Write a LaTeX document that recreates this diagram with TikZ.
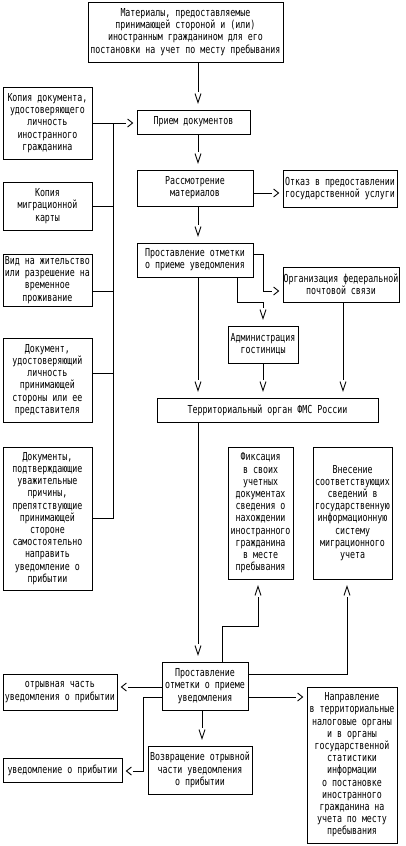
\documentclass[tikz,border=0pt]{standalone}
\usepackage{fontspec}
\usetikzlibrary{arrows.meta,calc}
\newfontfamily\mono[FakeStretch=0.755]{DejaVu Sans Mono}
\newdimen\vgapdim
\pgfdeclarearrow{
  name = Vg,
  parameters = {\the\pgfarrowlength,\the\pgfarrowwidth},
  setup code = {
    \vgapdim=\pgfarrowlength
    \advance\vgapdim by 2pt
    \pgfarrowssettipend{0pt}
    \pgfarrowssetbackend{-\pgfarrowlength}
    \pgfarrowssetlineend{-\vgapdim}
    \pgfarrowssavethe\pgfarrowlength
    \pgfarrowssavethe\pgfarrowwidth
  },
  drawing code = {
    \pgfpathmoveto{\pgfqpoint{-\pgfarrowlength}{.5\pgfarrowwidth}}
    \pgfpathlineto{\pgfpointorigin}
    \pgfpathlineto{\pgfqpoint{-\pgfarrowlength}{-.5\pgfarrowwidth}}
    \pgfusepathqstroke
  },
  defaults = {length=8pt, width=6pt}
}
\tikzset{
  box/.style={draw, line width=0.9pt, inner sep=0pt, align=center,
    font={\mono\fontsize{11}{12.2}\selectfont}},
  conn/.style={line width=0.9pt},
  vd/.style={conn, -{Vg[length=9pt,width=6pt]}, shorten >=7pt},
  hd/.style={conn, -{Vg[length=5pt,width=8pt]}, shorten >=4pt},
}
\begin{document}
\begin{tikzpicture}[x=1pt,y=-1pt]
\useasboundingbox (0,0) rectangle (405,846);
% boxes
\node[box, minimum width=195pt, minimum height=60pt] (top) at (185.5,32)
  {Материалы, предоставляемые\\ принимающей стороной и (или)\\ иностранным гражданином для его\\ постановки на учет по месту пребывания};
\node[box, minimum width=113pt, minimum height=24pt] (priem) at (193.5,122) {Прием документов};
\node[box, minimum width=89pt, minimum height=72pt] (kop1) at (47.5,123)
  {Копия документа,\\ удостоверяющего\\ личность\\ иностранного\\ гражданина};
\node[box, minimum width=116pt, minimum height=36pt] (rassm) at (195,188) {Рассмотрение\\ материалов};
\node[box, minimum width=114pt, minimum height=37pt] (otkaz) at (340,188.5)
  {Отказ в предоставлении\\ государственной услуги};
\node[box, minimum width=89pt, minimum height=48pt] (kop2) at (47.5,206) {Копия\\ миграционной\\ карты};
\node[box, minimum width=116pt, minimum height=34pt] (prost1) at (195,260)
  {Проставление отметки\\ о приеме уведомления};
\node[box, minimum width=89pt, minimum height=52pt] (vid) at (47.5,280)
  {Вид на жительство\\ или разрешение на\\ временное\\ проживание};
\node[box, minimum width=116pt, minimum height=35pt] (org) at (341,284.5)
  {Организация федеральной\\ почтовой связи};
\node[box, minimum width=70pt, minimum height=37pt] (admin) at (263,344.5) {Администрация\\ гостиницы};
\node[box, minimum width=89pt, minimum height=84pt] (dok) at (47.5,380)
  {Документ,\\ удостоверяющий\\ личность\\ принимающей\\ стороны или ее\\ представителя};
\node[box, minimum width=221pt, minimum height=24pt] (terr) at (267.5,410) {Территориальный орган ФМС России};
\node[box, minimum width=89pt, minimum height=143pt] (doks) at (47.5,518.5)
  {Документы,\\ подтверждающие\\ уважительные\\ причины,\\ препятствующие\\ принимающей\\ стороне\\ самостоятельно\\ направить\\ уведомление о\\ прибытии};
\node[box, minimum width=65pt, minimum height=132pt] (fiks) at (260.5,513)
  {Фиксация\\ в своих\\ учетных\\ документах\\ сведения о\\ нахождении\\ иностранного\\ гражданина\\ в месте\\ пребывания};
\node[box, minimum width=79pt, minimum height=132pt] (vnes) at (352.5,513)
  {Внесение\\ соответствующих\\ сведений в\\ государственную\\ информационную\\ систему\\ миграционного\\ учета};
\node[box, minimum width=86pt, minimum height=48pt] (prost2) at (205,686)
  {Проставление\\ отметки о приеме\\ уведомления};
\node[box, minimum width=114pt, minimum height=36pt] (otryv) at (60,692)
  {отрывная часть\\ уведомления о прибытии};
\node[box, minimum width=119pt, minimum height=24pt] (uved) at (62.5,770) {уведомление о прибытии};
\node[box, minimum width=104pt, minimum height=48pt] (vozvr) at (200,770)
  {Возвращение отрывной\\ части уведомления\\ о прибытии};
\node[box, minimum width=90pt, minimum height=156pt] (napr) at (352,765)
  {Направление\\ в территориальные\\ налоговые органы\\ и в органы\\ государственной\\ статистики\\ информации\\ о постановке\\ иностранного\\ гражданина на\\ учета по месту\\ пребывания};
% routing coordinates
\coordinate (X113) at (113,0);
\coordinate (X143) at (143,0);
\coordinate (X198) at (198,0);
\coordinate (X202) at (202,0);
\coordinate (X222) at (222,0);
\coordinate (X237) at (237,0);
\coordinate (X258) at (258,0);
\coordinate (X263) at (263,0);
\coordinate (X343) at (343,0);
\coordinate (X347) at (347,0);
\coordinate (Y193) at (0,193);
\coordinate (Y254) at (0,254);
\coordinate (Y291) at (0,291);
\coordinate (Y302) at (0,302);
\coordinate (Y373) at (0,373);
\coordinate (Y626) at (0,626);
\coordinate (Y674) at (0,674);
\coordinate (Y687) at (0,687);
\coordinate (Y697) at (0,697);
\coordinate (Y771) at (0,771);
% connectors
\draw[vd] (top.south -| X198) -- (priem.north -| X198);
\draw[hd] (kop1.east) -- (priem.west |- kop1.east);
\draw[conn] (doks.east) -| (kop1.east -| X113);
\draw[conn] (kop2.east) -- (kop2.east -| X113);
\draw[conn] (vid.east |- Y291) -- (Y291 -| X113);
\draw[conn] (dok.east |- Y373) -- (Y373 -| X113);
\draw[vd] (priem.south -| X198) -- (rassm.north -| X198);
\draw[hd] (rassm.east |- Y193) -- (otkaz.west |- Y193);
\draw[vd] (rassm.south -| X198) -- (prost1.north -| X198);
\draw[hd] (prost1.east |- Y254) -| (Y291 -| X263) -- (org.west |- Y291);
\draw[vd] (prost1.south -| X237) |- (Y302 -| X263) -- (admin.north);
\draw[vd] (prost1.south -| X198) -- (terr.north -| X198);
\draw[vd] (admin.south) -- (terr.north -| admin.south);
\draw[vd] (org.south -| X343) -- (terr.north -| X343);
\draw[vd] (terr.south -| X198) -- (prost2.north -| X198);
\draw[vd] (prost2.north -| X222) |- (Y626 -| X258) -- (fiks.south -| X258);
\draw[vd] (prost2.east |- Y674) -| (vnes.south -| X347);
\draw[hd] (prost2.west |- Y687) -- (otryv.east |- Y687);
\draw[hd] (prost2.west |- Y697) -| (Y771 -| X143) -- (uved.east |- Y771);
\draw[vd] (prost2.south -| X202) -- (vozvr.north -| X202);
\draw[hd] (prost2.east |- Y697) -- (napr.west |- Y697);
\end{tikzpicture}
\end{document}
